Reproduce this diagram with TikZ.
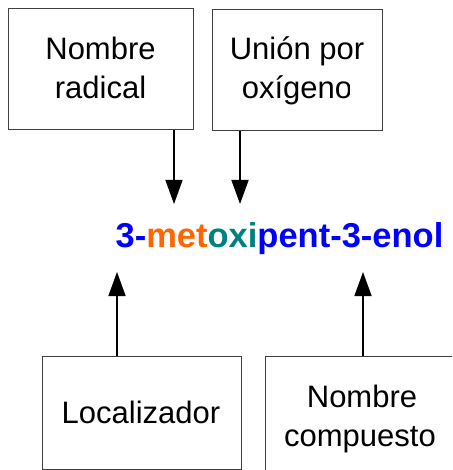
\documentclass[tikz,border=0pt]{standalone}
\usepackage{fontspec}
\setmainfont{Liberation Sans}
\usetikzlibrary{arrows.meta}
\definecolor{cblue}{RGB}{0,0,255}
\definecolor{corange}{RGB}{255,102,0}
\definecolor{cteal}{RGB}{0,128,128}
\begin{document}
\begin{tikzpicture}[x=1pt,y=-1pt,
  box/.style={draw=black!75,line width=1pt,rectangle,inner sep=0pt},
  lbl/.style={font=\fontsize{31}{37}\selectfont,anchor=base,inner sep=0pt},
  arr/.style={line width=1.5pt,-{Triangle[length=24pt,width=17pt]}}]
\useasboundingbox (0,0) rectangle (452,470);
\clip (0,0) rectangle (452,470);
% boxes
\node[box,minimum width=185pt,minimum height=121pt] (b1) at (100.5,69.5) {};
\node[box,minimum width=170pt,minimum height=121pt] (b2) at (297,70.5) {};
\node[box,minimum width=199pt,minimum height=113pt] (b3) at (141.5,412.5) {};
\node[box,minimum width=194pt,minimum height=119pt] (b4) at (362,415.5) {};
% box texts
\begin{scope}
  \clip (8,9) rectangle (153,130);
  \node[lbl] (n1a) at (100.5,60) {Nombre};
  \node[lbl] (n1b) at (100.5,99) {radical};
\end{scope}
\node[lbl] (n2a) at (297,60) {Unión por};
\begin{scope}
  \clip (212,70) rectangle (349,131);
  \node[lbl] (n2b) at (297,99) {oxígeno};
\end{scope}
\node[lbl] (n3) at (141,423) {Localizador};
\node[lbl] (n4a) at (362,407) {Nombre};
\node[lbl] (n4b) at (360,446) {compuesto};
% main name
\node[anchor=base,inner sep=0pt,font=\fontsize{34.5}{40}\selectfont\bfseries] (nm) at (279.5,247)
  {\textcolor{cblue}{3-}\textcolor{corange}{met}\textcolor{cteal}{oxi}\textcolor{cblue}{pent-3-enol}};
% arrow targets
\coordinate (t1) at (174,204);
\coordinate (t2) at (240,204);
\coordinate (t3) at (117,272);
\coordinate (t4) at (363,272);
\draw[arr] (b1.south -| t1) -- (t1);
\draw[arr] (b2.south -| t2) -- (t2);
\draw[arr] (b3.north -| t3) -- (t3);
\draw[arr] (b4.north -| t4) -- (t4);
\end{tikzpicture}
\end{document}
